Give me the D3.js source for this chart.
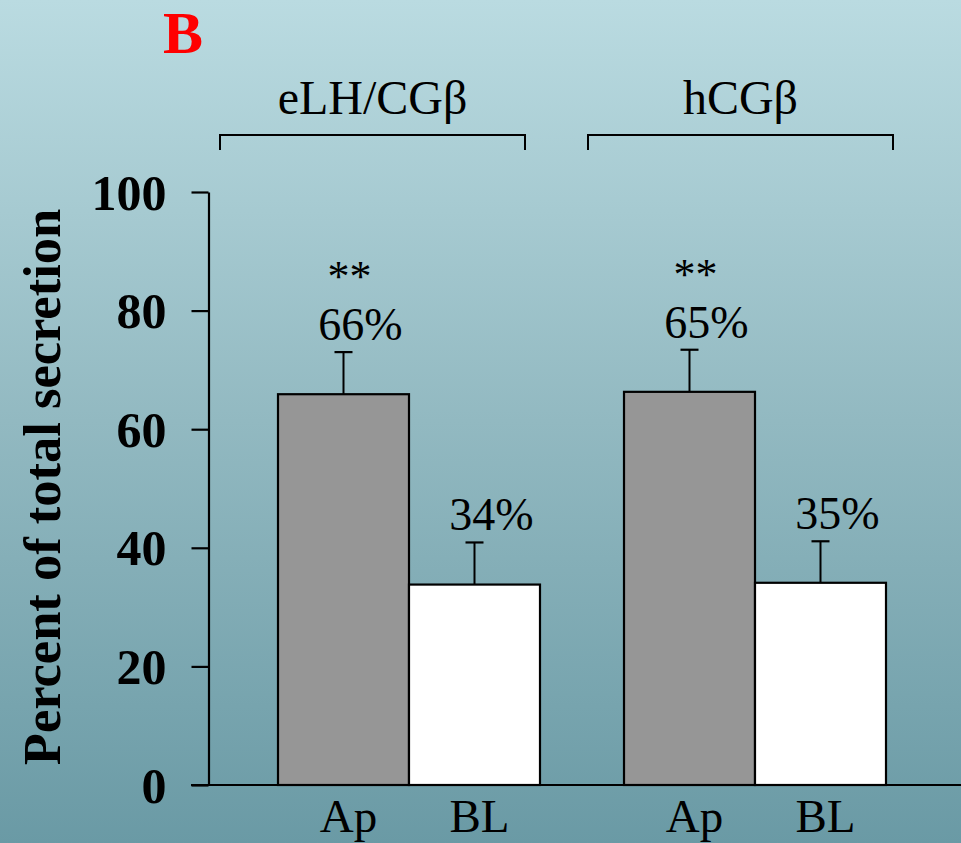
<!DOCTYPE html>
<html>
<head>
<meta charset="utf-8">
<script src="https://cdn.jsdelivr.net/npm/d3@7"></script>
<style>
  html, body { margin: 0; padding: 0; background: #fff; }
  svg { display: block; }
  text { font-family: "Liberation Serif", "Times New Roman", serif; fill: #000; }
</style>
</head>
<body>
<div id="chart"></div>
<script>
// ---- data ----
const groups = ["eLH/CGβ", "hCGβ"];
const categories = ["Ap", "BL"];
const meansELH = [65.9, 33.8];
const meansHCG = [66.3, 34.1];
const errELH = [7.1, 7.1];
const errHCG = [7.1, 7.0];
const pctLabelsELH = ["66%", "34%"];
const pctLabelsHCG = ["65%", "35%"];
const starLabelsELH = ["**", ""];
const starLabelsHCG = ["**", ""];
const yTicks = [0, 20, 40, 60, 80, 100];
const panelLabel = "B";
const yTitle = "Percent of total secretion";

const means = [meansELH, meansHCG];
const errs = [errELH, errHCG];
const pcts = [pctLabelsELH, pctLabelsHCG];
const stars = [starLabelsELH, starLabelsHCG];

const rows = [];
groups.forEach((g, gi) => categories.forEach((c, ci) => rows.push({
  group: g, cat: c, value: means[gi][ci], err: errs[gi][ci],
  pct: pcts[gi][ci], star: stars[gi][ci]
})));

// ---- layout ----
const W = 961, H = 843;
const svg = d3.select("#chart").append("svg").attr("width", W).attr("height", H);

const defs = svg.append("defs");
const grad = defs.append("linearGradient").attr("id", "bg")
  .attr("x1", 0).attr("y1", 0).attr("x2", 0).attr("y2", 1);
grad.append("stop").attr("offset", "0%").attr("stop-color", "#badbe1");
grad.append("stop").attr("offset", "50%").attr("stop-color", "#92b9c1");
grad.append("stop").attr("offset", "100%").attr("stop-color", "#6a9aa5");
svg.append("rect").attr("width", W).attr("height", H).attr("fill", "url(#bg)");

const y = d3.scaleLinear().domain([0, 100]).range([785, 192]);
const xGroup = d3.scaleBand().domain(groups).range([278, 886]).paddingInner(0.2428).paddingOuter(0);
const xCat = d3.scaleBand().domain(categories).range([0, xGroup.bandwidth()]).padding(0);
const xBracket = d3.scaleBand().domain(groups).range([220, 893]).paddingInner(0.1712).paddingOuter(0);

const axisX = 208.5;

// baseline
svg.append("line")
  .attr("x1", 191).attr("x2", W)
  .attr("y1", y(0)).attr("y2", y(0))
  .attr("stroke", "#000").attr("stroke-width", 2.2);

// y axis
const yAxis = d3.axisLeft(y).tickValues(yTicks).tickSize(17).tickPadding(25).tickSizeOuter(0);
const gy = svg.append("g").attr("transform", `translate(${axisX},0)`).call(yAxis);
gy.select(".domain").attr("stroke", "#000").attr("stroke-width", 2.2);
gy.selectAll(".tick line").attr("stroke", "#000").attr("stroke-width", 2.2);
gy.selectAll(".tick text")
  .attr("font-family", "Liberation Serif, Times New Roman, serif")
  .attr("font-weight", "bold").attr("font-size", 50).attr("fill", "#000")
  .attr("dy", "0.34em");

// y title
svg.append("text")
  .attr("transform", `translate(60,487) rotate(-90)`)
  .attr("text-anchor", "middle")
  .attr("font-weight", "bold").attr("font-size", 52.5)
  .text(yTitle);

// panel label
svg.append("text")
  .attr("x", 163).attr("y", 53)
  .attr("font-weight", "bold").attr("font-size", 60)
  .style("fill", "#ff0000")
  .text(panelLabel);

// brackets and group titles
groups.forEach(g => {
  const x0 = xBracket(g), x1 = x0 + xBracket.bandwidth();
  svg.append("path")
    .attr("d", `M${x0},150 V135 H${x1} V150`)
    .attr("fill", "none").attr("stroke", "#000").attr("stroke-width", 2);
  svg.append("text")
    .attr("x", (x0 + x1) / 2).attr("y", 114)
    .attr("text-anchor", "middle").attr("font-size", 48)
    .text(g);
});

const barX = d => xGroup(d.group) + xCat(d.cat);
const bw = xCat.bandwidth();
const fill = d3.scaleOrdinal().domain(categories).range(["#969696", "#ffffff"]);

// error bars (behind bars)
const eb = svg.append("g").selectAll("g").data(rows).join("g");
eb.append("line")
  .attr("x1", d => barX(d) + bw / 2).attr("x2", d => barX(d) + bw / 2)
  .attr("y1", d => y(d.value)).attr("y2", d => y(d.value + d.err))
  .attr("stroke", "#000").attr("stroke-width", 2);
eb.append("line")
  .attr("x1", d => barX(d) + bw / 2 - 9).attr("x2", d => barX(d) + bw / 2 + 9)
  .attr("y1", d => y(d.value + d.err)).attr("y2", d => y(d.value + d.err))
  .attr("stroke", "#000").attr("stroke-width", 2.2);

// bars
svg.append("g").selectAll("rect").data(rows).join("rect")
  .attr("x", d => barX(d)).attr("width", bw)
  .attr("y", d => y(d.value)).attr("height", d => y(0) - y(d.value))
  .attr("fill", d => fill(d.cat))
  .attr("stroke", "#000").attr("stroke-width", 2.2);

// percent labels
svg.append("g").selectAll("text").data(rows).join("text")
  .attr("x", d => barX(d) + bw / 2 + 17)
  .attr("y", d => y(d.value + d.err) - 12)
  .attr("text-anchor", "middle").attr("font-size", 46)
  .text(d => d.pct);

// significance stars
svg.append("g").selectAll("text").data(rows.filter(d => d.star)).join("text")
  .attr("x", d => barX(d) + bw / 2 + 6)
  .attr("y", d => y(d.value + d.err) - 61)
  .attr("text-anchor", "middle").attr("font-size", 44)
  .text(d => d.star);

// category labels
svg.append("g").selectAll("text").data(rows).join("text")
  .attr("x", d => barX(d) + bw / 2 + 5)
  .attr("y", 832)
  .attr("text-anchor", "middle").attr("font-size", 47)
  .text(d => d.cat);
</script>
</body>
</html>
